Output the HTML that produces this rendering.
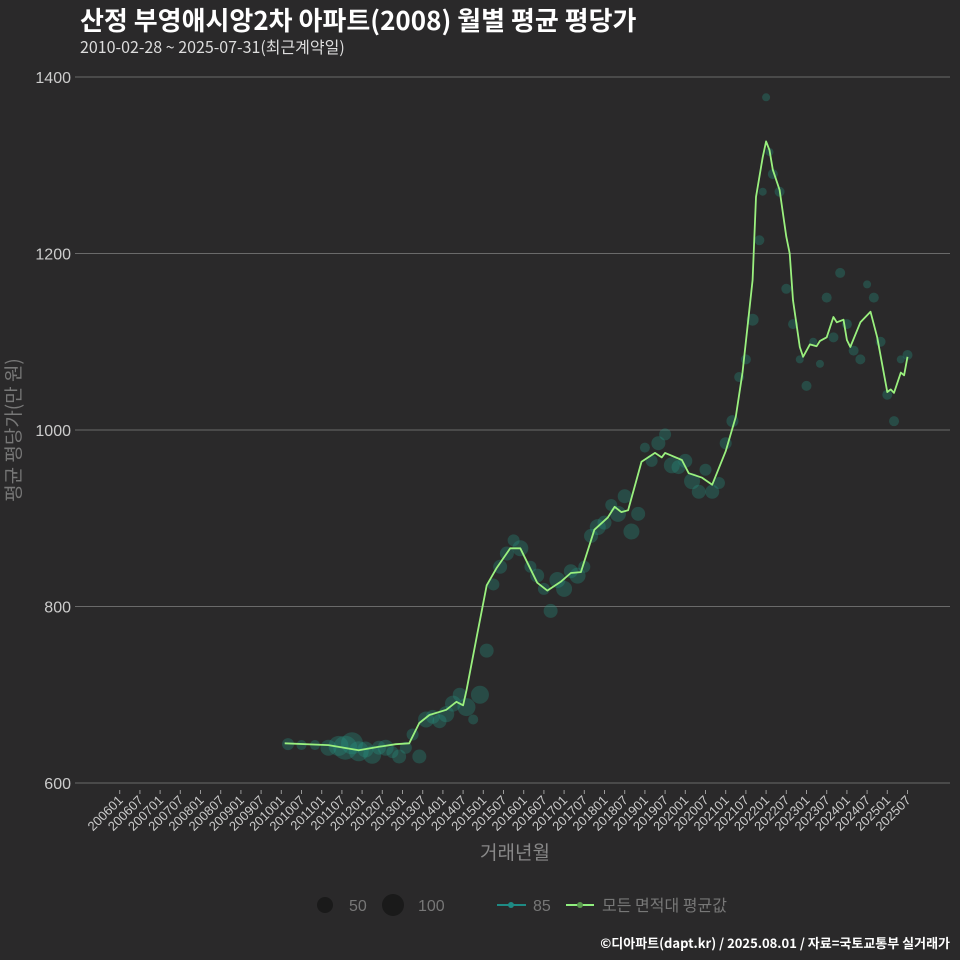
<!DOCTYPE html>
<html><head><meta charset="utf-8">
<style>
html,body{margin:0;padding:0;background:#2a292a;}
svg{display:block;font-family:"Liberation Sans","Noto Sans CJK KR",sans-serif;}
</style></head>
<body>
<svg id="chart" width="960" height="960" viewBox="0 0 960 960">
<rect x="0" y="0" width="960" height="960" fill="#2a292a"/>
<text x="80" y="30" fill="#ffffff" font-size="26" font-weight="bold" font-family="'Noto Sans CJK KR',sans-serif">산정 부영애시앙2차 아파트(2008) 월별 평균 평당가</text>
<text x="80" y="53" fill="#dddddd" font-size="16" font-family="'Noto Sans CJK KR',sans-serif">2010-02-28 ~ 2025-07-31(최근계약일)</text>
<g id="grid"></g>
<g id="yaxis"></g>
<g id="xaxis"></g>
<g id="bubbles"></g>
<g id="lineg"></g>
<text transform="translate(20,430) rotate(-90)" text-anchor="middle" fill="#777" font-size="19" font-family="'Noto Sans CJK KR',sans-serif">평균 평당가(만 원)</text>
<text x="515" y="859" text-anchor="middle" fill="#888" font-size="19" font-family="'Noto Sans CJK KR',sans-serif">거래년월</text>
<g>
  <circle cx="325" cy="905" r="8" fill="#1a1a1a"/>
  <text x="349" y="911" fill="#777" font-size="16">50</text>
  <circle cx="393" cy="905" r="11" fill="#1a1a1a"/>
  <text x="418" y="911" fill="#777" font-size="16">100</text>
  <line x1="497" y1="905" x2="526" y2="905" stroke="#1e8a84" stroke-width="2"/>
  <circle cx="511" cy="905" r="3" fill="#1e8a84"/>
  <text x="533" y="911" fill="#777" font-size="16">85</text>
  <line x1="566" y1="905" x2="594" y2="905" stroke="#90ee7e" stroke-width="2"/>
  <circle cx="580" cy="905" r="3" fill="#5a9a4e"/>
  <text x="602" y="911" fill="#777" font-size="16" font-family="'Noto Sans CJK KR',sans-serif">모든 면적대 평균값</text>
</g>
<text x="950" y="948" text-anchor="end" fill="#ffffff" font-size="13" font-weight="bold" font-family="'Noto Sans CJK KR',sans-serif">©디아파트(dapt.kr) / 2025.08.01 / 자료=국토교통부 실거래가</text>
</svg>
<script>
const yTicks = [600, 800, 1000, 1200, 1400];
const xTickLabels = [];
for (let yr = 2006; yr <= 2025; yr++) { xTickLabels.push(yr + "01"); xTickLabels.push(yr + "07"); }
const lineMonths = ["201002","201103","201112","201206","201211","201303","201306","201309","201402","201405","201407","201408","201411","201502","201505","201509","201512","201605","201608","201612","201703","201706","201710","201802","201804","201806","201808","201812","201904","201906","201907","201912","202002","202006","202009","202101","202104","202106","202109","202110","202112","202201","202202","202203","202205","202207","202208","202209","202211","202212","202302","202304","202305","202307","202309","202310","202312","202401","202402","202405","202408","202410","202501","202502","202503","202505","202506","202507"];
const lineValues = [645,643,637,641,644,645,668,677,683,692,688,705,765,824,844,866,866,827,818,828,838,839,887,901,913,907,909,964,974,969,974,966,951,946,938,976,1015,1065,1170,1264,1309,1327,1317,1295,1272,1219,1200,1147,1094,1083,1097,1095,1101,1105,1128,1122,1125,1102,1094,1122,1134,1105,1043,1046,1042,1065,1062,1083];
const bubbleMonths = ["201003","201007","201011","201103","201106","201108","201110","201112","201202","201204","201206","201208","201210","201212","201302","201304","201306","201308","201310","201312","201402","201404","201406","201408","201410","201412","201502","201504","201506","201508","201510","201512","201603","201605","201607","201609","201611","201701","201703","201705","201707","201709","201711","201801","201803","201805","201807","201809","201811","201901","201903","201905","201907","201909","201911","202001","202003","202005","202007","202009","202011","202101","202103","202105","202107","202109","202111","202112","202201","202202","202203","202205","202207","202209","202211","202301","202303","202305","202307","202309","202311","202401","202403","202405","202407","202409","202411","202501","202503","202505","202507"];
const bubbleValues = [644,643,643,640,642,640,645,636,638,632,640,640,635,630,640,655,630,672,675,670,678,690,700,686,672,700,750,825,845,860,875,866,845,835,820,795,830,820,840,835,845,880,890,895,915,905,925,885,905,980,965,985,995,960,958,965,942,930,955,930,940,985,1010,1060,1080,1125,1215,1270,1377,1315,1290,1270,1160,1120,1080,1050,1100,1075,1150,1105,1178,1120,1090,1080,1165,1150,1100,1040,1010,1080,1085];
const bubbleSizes = [6,5,5,8,10,12,11,10,8,9,7,8,6,7,6,6,7,8,7,7,8,8,7,9,5,9,7,6,7,7,6,8,6,7,6,7,8,8,7,8,6,7,8,7,6,8,7,8,7,5,6,7,6,8,7,7,8,7,6,7,6,6,6,5,5,6,5,4,4,4,5,5,5,5,4,5,4,4,5,5,5,5,5,5,4,5,5,5,5,4,5];

const NS = "http://www.w3.org/2000/svg";
const plotL = 75, plotR = 950;
function yScale(v) { return 783 - (v - 600) * (706 / 800); }
function monthIndex(s) { return (parseInt(s.slice(0, 4)) - 2006) * 12 + parseInt(s.slice(4, 6)) - 1; }
function xScale(s) { return 119.7 + monthIndex(s) * (20.2 / 6); }
function mk(tag, attrs, parent) { const e = document.createElementNS(NS, tag); for (const k in attrs) e.setAttribute(k, attrs[k]); parent.appendChild(e); return e; }

const grid = document.getElementById("grid"), yaxis = document.getElementById("yaxis"), xaxis = document.getElementById("xaxis");
yTicks.forEach(v => {
  const l = mk("line", {x1: plotL, x2: plotR, y1: yScale(v), y2: yScale(v), stroke: "#6a6a6a", "stroke-width": 1}, grid);
  
  
  const t = mk("text", {x: 71, y: yScale(v) + 6, "text-anchor": "end", fill: "#cccccc", "font-size": 16}, yaxis);
  t.textContent = v;
  
  
});
xTickLabels.forEach(s => {
  const x = xScale(s);
  const tk = mk("line", {x1: x, x2: x, y1: 790, y2: 794, stroke: "#999", "stroke-width": 1}, xaxis);
  
  
  const t = mk("text", {transform: "translate(" + (x + 4) + ",801) rotate(-45)", "text-anchor": "end", fill: "#cccccc", "font-size": 13}, xaxis);
  t.textContent = s;
  
  
});
const bg = document.getElementById("bubbles");
bubbleMonths.forEach((m, i) => {
  const c = mk("circle", {cx: xScale(m), cy: yScale(bubbleValues[i]), r: bubbleSizes[i], fill: "rgba(38,150,130,0.32)"}, bg);
  
  
});
const lg = document.getElementById("lineg");
const pts = lineMonths.map((m, i) => xScale(m).toFixed(1) + "," + yScale(lineValues[i]).toFixed(1)).join(" ");
const pl = mk("polyline", {points: pts, fill: "none", stroke: "#9af07e", "stroke-width": 1.8, "stroke-linejoin": "round"}, lg);


</script>
</body></html>
